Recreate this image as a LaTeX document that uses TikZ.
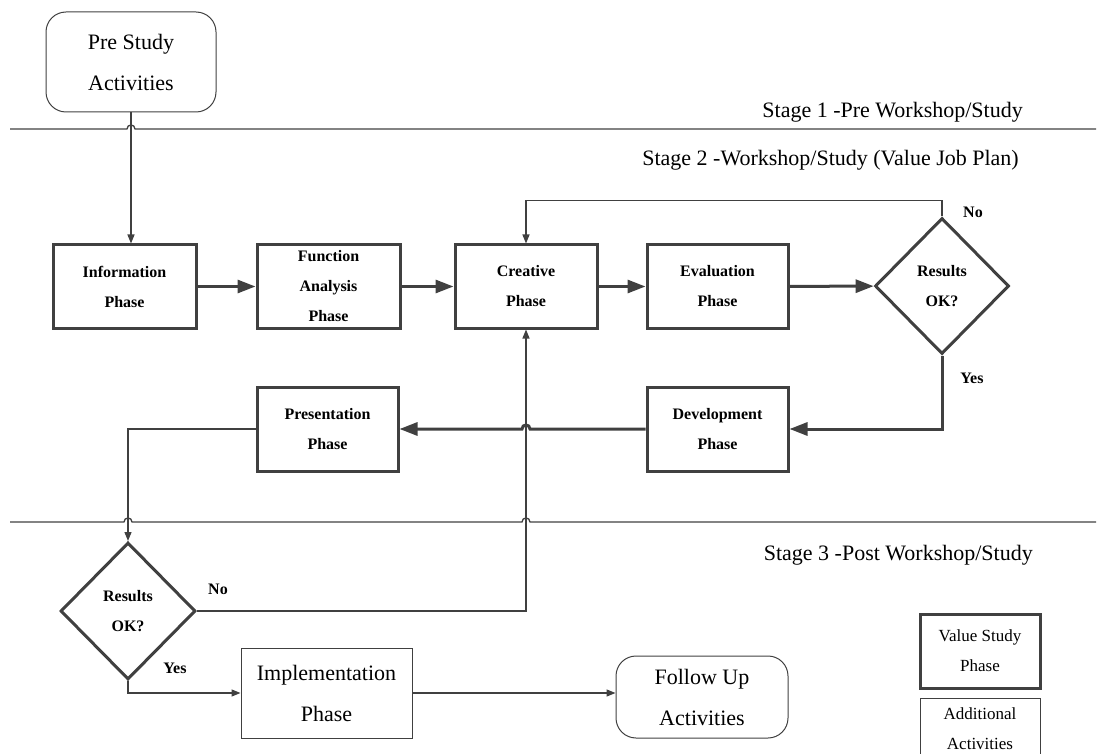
\documentclass[tikz,border=0pt]{standalone}
\usepackage{fontspec}
\setmainfont{Liberation Serif}
\usetikzlibrary{arrows.meta,shapes.geometric}
\definecolor{lc}{RGB}{64,64,64}
\begin{document}
\begin{tikzpicture}[x=1pt,y=-1pt,
  phasebox/.style={draw=lc,line width=3pt,inner sep=0pt,align=center,
    font=\fontsize{16}{30}\selectfont\bfseries},
  decbox/.style={draw=lc,line width=3pt,inner sep=0pt,align=center,diamond,
    font=\fontsize{16}{30}\selectfont\bfseries},
  addbox/.style={draw=lc,line width=1pt,inner sep=0pt,align=center,
    font=\fontsize{22}{41}\selectfont},
  legbox/.style={draw=lc,inner sep=0pt,align=center,
    font=\fontsize{17}{30}\selectfont,minimum width=120pt},
  thinline/.style={draw=lc,line width=1.3pt},
  thinarrow/.style={draw=lc,line width=1.3pt,-{Triangle[length=9pt,width=7pt]}},
  thickarrow/.style={draw=lc,line width=3pt,-{Triangle[length=18pt,width=13pt]}},
  yesno/.style={font=\fontsize{16}{18}\selectfont\bfseries},
  stagelbl/.style={font=\fontsize{22}{26}\selectfont,anchor=base east,inner sep=0pt}
]
\useasboundingbox (0,0) rectangle (1106,754);

% nodes
\node[addbox,rounded corners=20pt,minimum width=170pt,minimum height=100pt] (prestudy) at (131,62) {Pre Study\\Activities};
\node[phasebox,minimum width=143pt,minimum height=83pt] (info) at (124.5,286.5) {Information\\Phase};
\node[phasebox,minimum width=143pt,minimum height=83pt] (func) at (328.5,286.5) {Function\\Analysis\\Phase};
\node[phasebox,minimum width=142pt,minimum height=83pt] (creative) at (526,286.5) {Creative\\Phase};
\node[phasebox,minimum width=141pt,minimum height=83pt] (eval) at (717.5,286.5) {Evaluation\\Phase};
\node[decbox,minimum width=134pt,minimum height=136pt] (dec1) at (942,286) {Results\\OK?};
\node[phasebox,minimum width=141pt,minimum height=84pt] (dev) at (717.5,429) {Development\\Phase};
\node[phasebox,minimum width=141pt,minimum height=84pt] (pres) at (327.5,429) {Presentation\\Phase};
\node[decbox,minimum width=135pt,minimum height=137pt] (dec2) at (128,611) {Results\\OK?};
\node[addbox,minimum width=171pt,minimum height=90pt] (impl) at (326.5,693) {Implementation\\Phase};
\node[addbox,rounded corners=20pt,minimum width=172pt,minimum height=82pt] (follow) at (702,697) {Follow Up\\Activities};
\node[legbox,line width=3pt,minimum height=74pt] (leg1) at (980,651) {Value Study\\Phase};
\node[legbox,line width=1pt,minimum height=62pt] (leg2) at (980,729) {Additional\\Activities};

% stage labels
\node[stagelbl] (s1) at (1023,118) {Stage 1 -Pre Workshop/Study};
\node[stagelbl] (s2) at (1019,166) {Stage 2 -Workshop/Study (Value Job Plan)};
\node[stagelbl] (s3) at (1033,560) {Stage 3 -Post Workshop/Study};

% separator lines with hops
\draw[thinline] (10,129) -- (127,129) .. controls (127,123.7) and (135,123.7) .. (135,129) -- (1096,129);
\draw[thinline] (10,522) -- (124,522) .. controls (124,516.7) and (132,516.7) .. (132,522)
  -- (522,522) .. controls (522,516.7) and (530,516.7) .. (530,522) -- (1096,522);

% connectors
\draw[thinarrow] (prestudy.south) -- (prestudy.south |- info.north);
\draw[thickarrow] (info) -- (func);
\draw[thickarrow] (func) -- (creative);
\draw[thickarrow] (creative) -- (eval);
\draw[thickarrow] (eval) -- (dec1);
\draw[thinarrow] (dec1.north) -- ++(0,-16) -| (creative.north);
\draw[thickarrow] (dec1.south) |- (dev.east);
\draw[thickarrow] (dev.west) -- (530,429) .. controls (530,423.7) and (522,423.7) .. (522,429) -- (pres.east);
\draw[thinarrow] (pres.west) -| (dec2.north);
\draw[thinarrow] (dec2.east) -| (creative.south);
\draw[thinarrow] (dec2.south) |- (impl.west);
\draw[thinarrow] (impl.east) -- (impl.east -| follow.west);

% yes/no labels
\node[yesno] (no1) at (973,212) {No};
\node[yesno] (yes1) at (972,378) {Yes};
\node[yesno] (no2) at (218,589) {No};
\node[yesno] (yes2) at (175,668) {Yes};
\end{tikzpicture}
\end{document}
